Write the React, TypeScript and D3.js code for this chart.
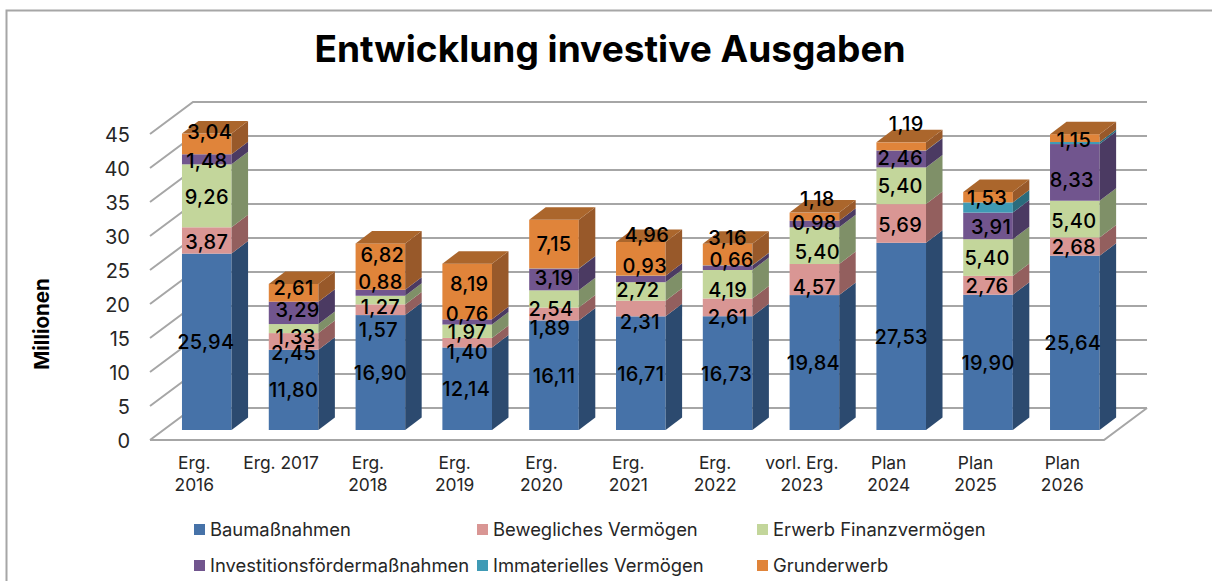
import React from "react";
import * as d3 from "d3";

const categories = ["Erg. 2016","Erg. 2017","Erg. 2018","Erg. 2019","Erg. 2020","Erg. 2021","Erg. 2022","vorl. Erg. 2023","Plan 2024","Plan 2025","Plan 2026"];
const categoryLines = [["Erg.","2016"],["Erg. 2017"],["Erg.","2018"],["Erg.","2019"],["Erg.","2020"],["Erg.","2021"],["Erg.","2022"],["vorl. Erg.","2023"],["Plan","2024"],["Plan","2025"],["Plan","2026"]];
const seriesNames = ["Baumaßnahmen","Bewegliches Vermögen","Erwerb Finanzvermögen","Investitionsfördermaßnahmen","Immaterielles Vermögen","Grunderwerb"];
const bau = [25.94,11.80,16.90,12.14,16.11,16.71,16.73,19.84,27.53,19.90,25.64];
const bew = [3.87,2.45,1.57,1.40,1.89,2.31,2.61,4.57,5.69,2.76,2.68];
const erw = [9.26,1.33,1.27,1.97,2.54,2.72,4.19,5.40,5.40,5.40,5.40];
const inv = [1.48,3.29,0.88,0.76,3.19,0.93,0.66,0.98,2.46,3.91,8.33];
const imm = [0,0,0,0,0.03,0.03,0.03,0,0.03,1.5,0.3];
const gru = [3.04,2.61,6.82,8.19,7.15,4.96,3.16,1.18,1.19,1.53,1.15];
const values = [bau,bew,erw,inv,imm,gru];
const yTicks = [0,5,10,15,20,25,30,35,40,45];

// Hand placement of data labels relative to segment centre, as in the source chart.
const nudgeY = [
  [0,0,0,0,0,0,0,0,0,0,0],
  [1,11,20,9,13.7,12.5,9,7,1,0,0],
  [1,8,6.7,0,9.4,-2,5,6,0,0,1.5],
  [1.4,-3,-11,-8.6,-2,-14,-8,-1.6,-1.4,1,7],
  [0,0,0,0,0,0,0,0,0,0,0],
  [-12,-5,-12,-8,-1,-24.6,-17,-18,-22.6,0.5,1],
];
const nudgeX = [
  [-1,0,0,-1,0,0,-1,-1,0,0,-2],
  [0,0,-2,0,-4,-1,0,0,-1,-1,-1],
  [0,2,0,0,-3,-3,0,3,-1,-1,-1],
  [0,4,0,0,0,4,4,0,-1,3,-3],
  [0,0,0,0,0,0,0,0,0,0,0],
  [3,0,2,2,0,6,0,3,5,-1,-1],
];

const faceColors = ["#4672a8","#d99694","#c3d69b","#71558e","#3f9ab5","#e0843a"];
const sideColors = ["#2c4a6f","#935f5e","#7f9068","#4b3a62","#2a6b7c","#98592a"];
const topColor = "#ab662c";
const gridColor = "#a6a6a6";
const font = "Inter, 'Noto Sans', sans-serif";
const textColor = "#262626";

export default function App() {
  const x = d3.scaleBand<number>().domain(d3.range(categories.length)).range([163.4, 1118.2]).paddingInner(0.4286).paddingOuter(0.214);
  const y = d3.scaleLinear().domain([0, 45]).range([430, 124]);
  const gridBack = d3.scaleLinear().domain([0, 45]).range([408, 102]);
  const gridFront = d3.scaleLinear().domain([0, 45]).range([440, 134]);
  const stacked = d3.stack<number[]>().keys(d3.range(6) as any).value((row, k) => row[k as any])(
    categories.map((_, i) => values.map((s) => s[i]))
  );
  const dx = 16.5, dy = 12.5;
  const gx0 = 150, gx1 = 193, gx2 = 1147, gfr = 1104;
  const bw = x.bandwidth();
  const legendPos = [[194, 529],[477, 529],[757, 529],[194, 565],[477, 565],[757, 565]];

  return (
    <svg width={1212} height={581} viewBox="0 0 1212 581" style={{ position: "absolute", left: 0, top: 0, display: "block", background: "#fff" }} fontFamily={font}>
      <path d="M6.5 581V10.5H1212" fill="none" stroke="#a6a6a6" strokeWidth={2} />
      <text x={610} y={62} textAnchor="middle" fontSize={37.1} fontWeight={700} fill="#000">Entwicklung investive Ausgaben</text>

      <g stroke={gridColor} strokeWidth={2} fill="none">
        {yTicks.map((t) => (
          <path key={t} d={`M${gx0} ${gridFront(t)}L${gx1} ${gridBack(t)}L${gx2} ${gridBack(t)}`} />
        ))}
        <path d={`M${gx0} ${gridFront(0)}L${gfr} ${gridFront(0)}L${gx2} ${gridBack(0)}`} />
      </g>

      {yTicks.map((t) => (
        <text key={t} x={130} y={gridFront(t) + 8} textAnchor="end" fontSize={20} fill={textColor}>{t}</text>
      ))}
      <text transform="translate(49,324) rotate(-90)" textAnchor="middle" fontSize={20.5} fontWeight={700} fill="#000">Millionen</text>

      {categories.map((_, i) => {
        const left = x(i)!;
        return (
          <g key={i}>
            {stacked.map((layer, k) => {
              const [a, b] = layer[i];
              if (b - a <= 0) return null;
              const isTop = k === 5;
              return (
                <g key={k}>
                  <rect x={left} y={y(b)} width={bw} height={y(a) - y(b)} fill={faceColors[k]} />
                  <path d={`M${left + bw} ${y(a)}L${left + bw + dx} ${y(a) - dy}L${left + bw + dx} ${y(b) - dy}L${left + bw} ${y(b)}Z`} fill={sideColors[k]} />
                  {isTop && <path d={`M${left} ${y(b)}L${left + dx} ${y(b) - dy}L${left + bw + dx} ${y(b) - dy}L${left + bw} ${y(b)}Z`} fill={topColor} />}
                </g>
              );
            })}
          </g>
        );
      })}

      {categories.map((_, i) => (
        <g key={i}>
          {stacked.map((layer, k) => {
            if (k === 4) return null;
            const [a, b] = layer[i];
            const v = values[k][i];
            return (
              <text key={k} x={x(i)! + bw / 2 + nudgeX[k][i]} y={(y(a) + y(b)) / 2 + nudgeY[k][i] + 7.5} textAnchor="middle" fontSize={20} fontWeight={500} letterSpacing={0.3} fill="#000">
                {v.toFixed(2).replace(".", ",")}
              </text>
            );
          })}
        </g>
      ))}

      {categoryLines.map((lines, i) => (
        <text key={i} textAnchor="middle" fontSize={17.4} fill={textColor}>
          {lines.map((l, j) => (
            <tspan key={j} x={x(i)! + bw / 2 - 12.5} y={469 + j * 21.5}>{l}</tspan>
          ))}
        </text>
      ))}

      {seriesNames.map((n, k) => (
        <g key={n}>
          <rect x={legendPos[k][0]} y={legendPos[k][1] - 5} width={11} height={11} fill={faceColors[k]} />
          <text x={legendPos[k][0] + 16} y={legendPos[k][1] + 6.5} fontSize={18.4} fill={textColor}>{n}</text>
        </g>
      ))}
    </svg>
  );
}
